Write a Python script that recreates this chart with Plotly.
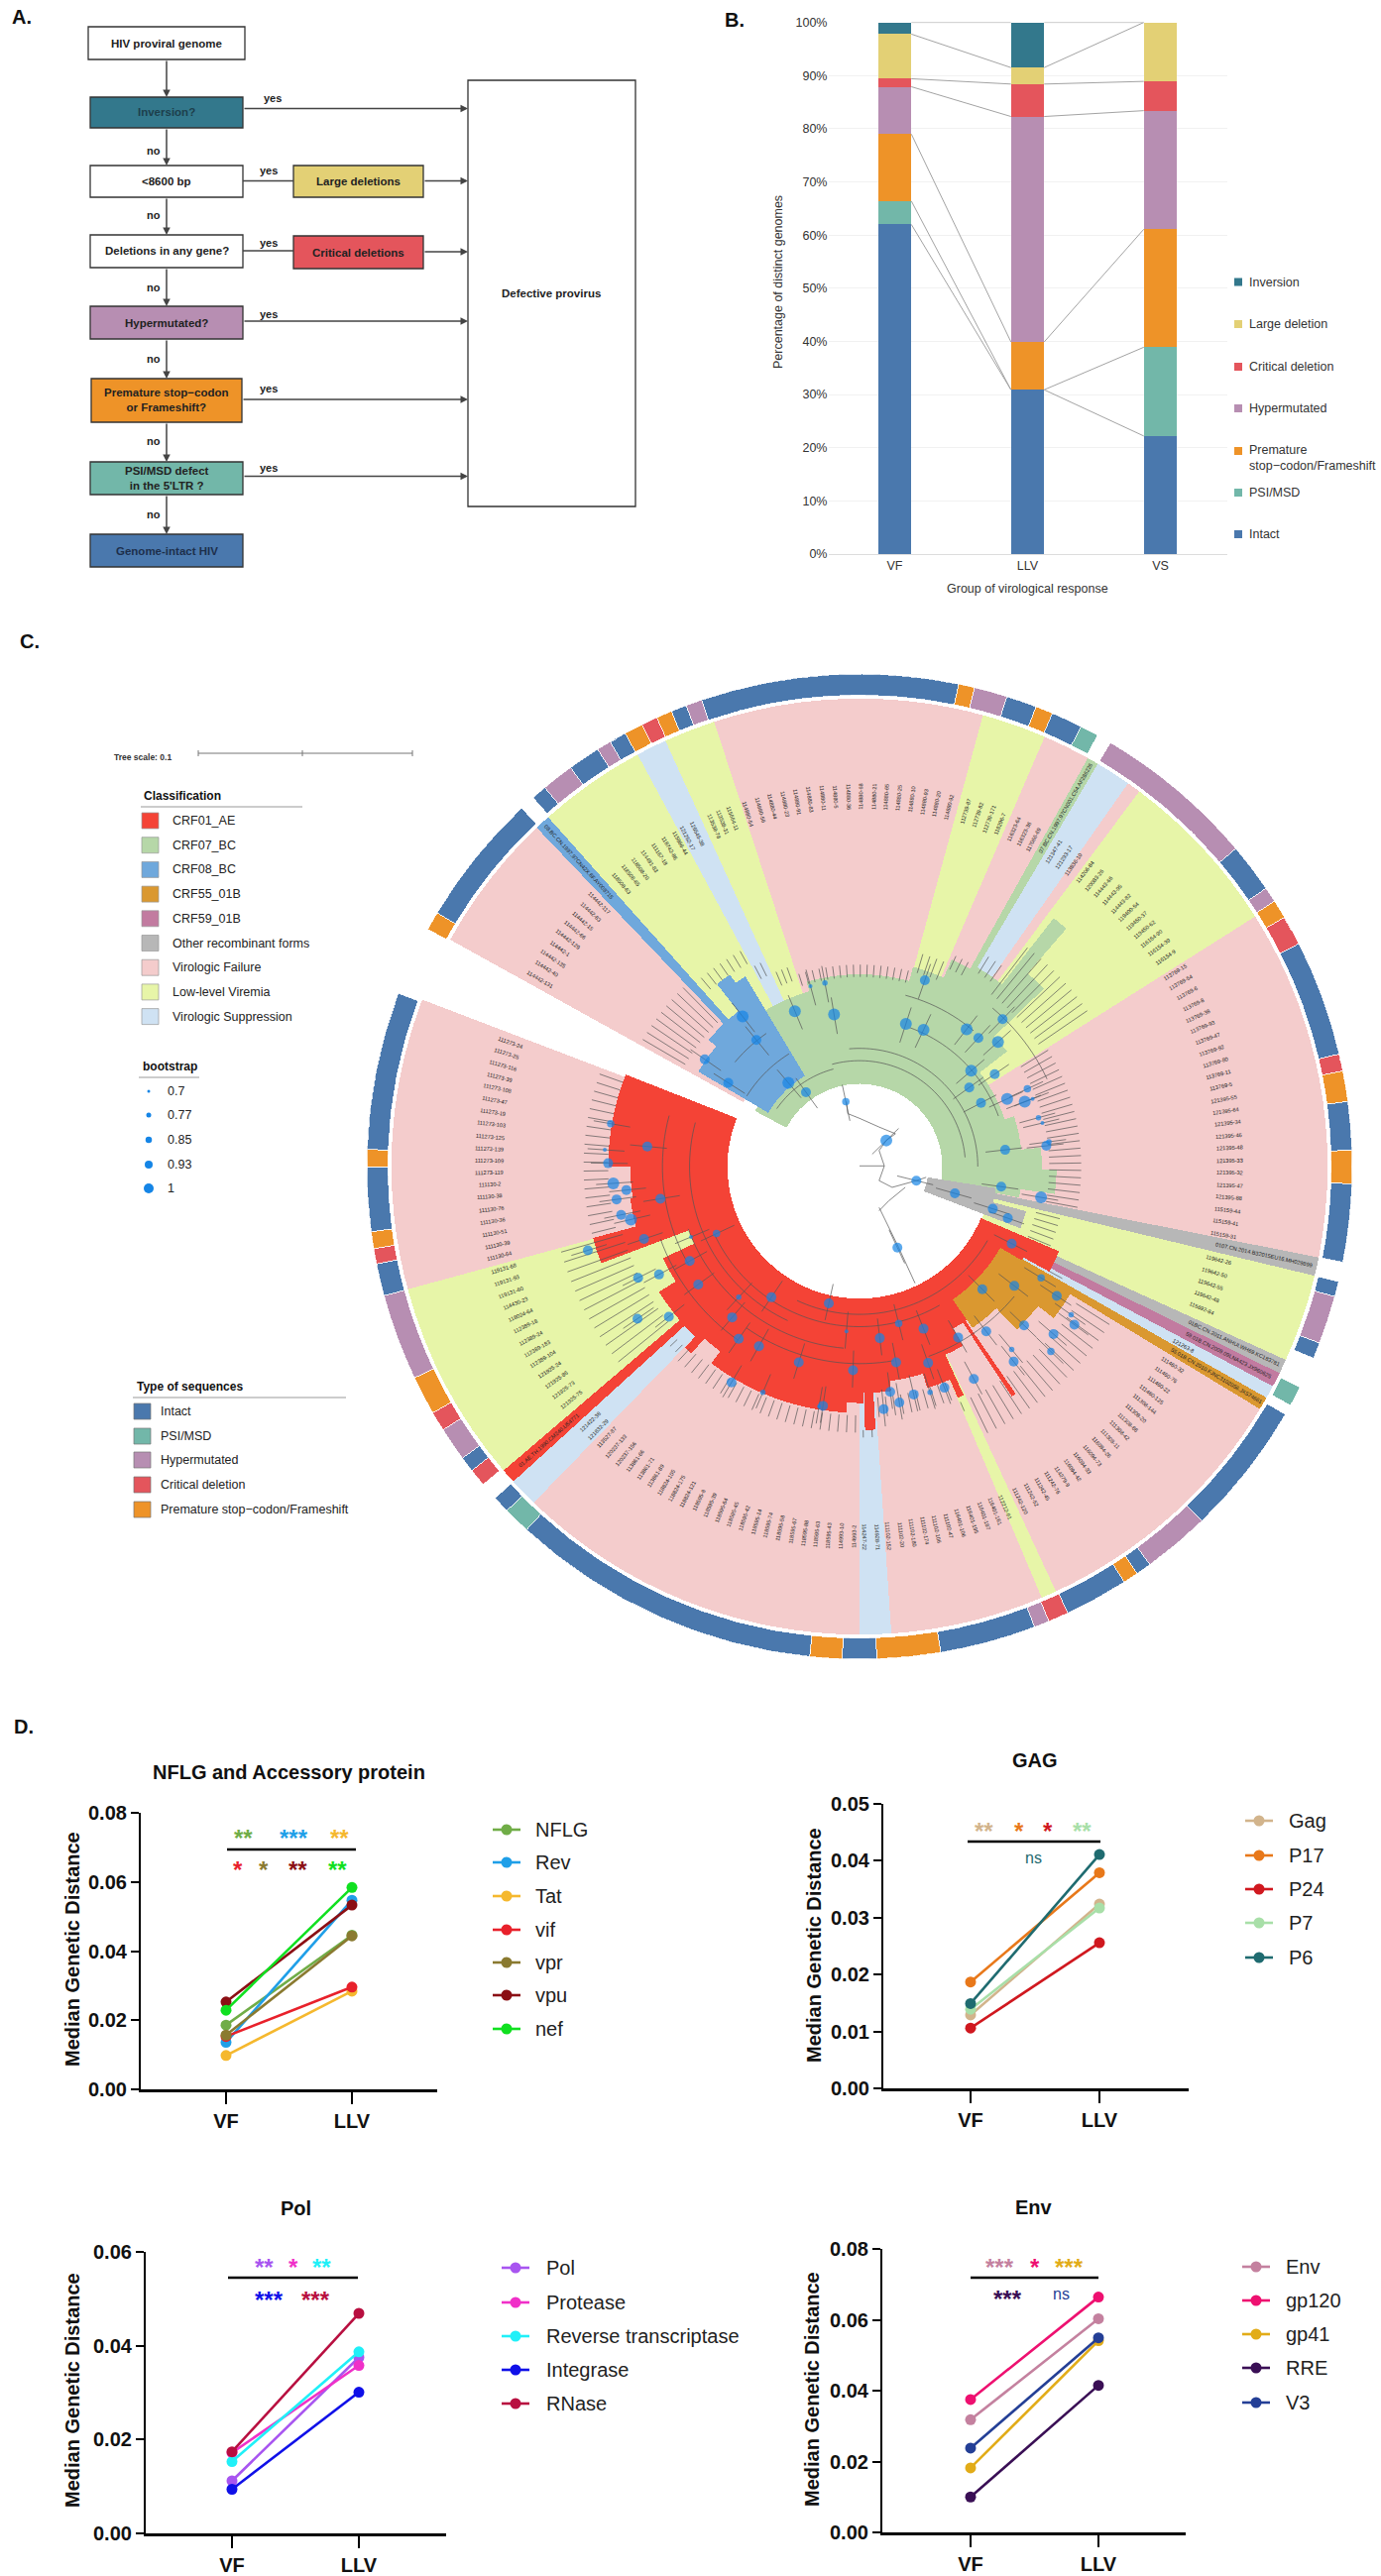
import math
import numpy as np
import plotly.graph_objects as go

W, H = 1393, 2599
FONT = "Liberation Sans"

# ---------------- colours of defect classes
C_INV, C_LARGE, C_CRIT, C_HYP = "#33788c", "#e3d075", "#e4555c", "#b78eb2"
C_PREM, C_PSI, C_INT = "#ee9328", "#72b7a9", "#4a78ad"
# ---------------- tree clade colours
PINK, YEL, LBL = "#f4cccc", "#e7f5a8", "#cfe2f3"
RED, GRN, BL8, OR55, PU59, GREY = "#f44336", "#b6d7a8", "#6fa8dc", "#da9830", "#c27ba0", "#b7b7b7"

# ---------------- Panel B data
groups = ["VF", "LLV", "VS"]
stack_names = ["Intact", "PSI/MSD", "Premature", "Hypermutated", "Critical deletion", "Large deletion", "Inversion"]
stack_colors = [C_INT, C_PSI, C_PREM, C_HYP, C_CRIT, C_LARGE, C_INV]
intact = [62.0, 30.9, 22.2]
psi_msd = [4.4, 0.0, 16.7]
premature = [12.6, 9.0, 22.2]
hypermutated = [8.9, 42.4, 22.3]
critical = [1.5, 6.1, 5.5]
large = [8.4, 3.1, 11.1]
inversion = [2.2, 8.5, 0.0]
b_legend = ["Inversion", "Large deletion", "Critical deletion", "Hypermutated", "Premature<br>stop\u2212codon/Frameshift", "PSI/MSD", "Intact"]
b_legend_colors = [C_INV, C_LARGE, C_CRIT, C_HYP, C_PREM, C_PSI, C_INT]

# ---------------- Panel C: outer ring (start angle, end angle, colour)
ring_start = [341.3, 11.6, 13.5, 17.4, 21.0, 23.0, 26.7, 30.6, 49.8, 55.6, 57.4, 59.6, 63.1, 76.8, 78.8, 82.4, 88.1, 92.0,
              103.5, 105.3, 111.0, 116.6, 120.2, 136.0, 143.9, 145.7, 147.5, 155.0, 157.4, 159.2, 170.5, 178.0, 182.0, 185.8,
              222.5, 225.7, 229.8, 231.9, 233.7, 237.7, 240.0, 244.6, 254.8, 258.6, 260.4, 262.4, 270.0, 272.0, 298.8, 301.0,
              318.5, 320.3, 324.1, 327.9, 329.6, 331.6, 333.8, 335.7, 337.6, 339.4]
ring_end = [371.6, 13.5, 17.4, 21.0, 23.0, 26.7, 28.9, 49.8, 55.6, 57.4, 59.6, 63.1, 76.8, 78.8, 82.4, 88.1, 92.0, 101.2,
            105.3, 111.0, 112.9, 119.0, 136.0, 143.9, 145.7, 147.5, 155.0, 157.4, 159.2, 170.5, 178.0, 182.0, 185.8, 222.5,
            225.7, 227.7, 231.9, 233.7, 237.7, 240.0, 244.6, 254.8, 258.6, 260.4, 262.4, 270.0, 272.0, 290.6, 301.0, 316.7,
            320.3, 324.1, 327.9, 329.6, 331.6, 333.8, 335.7, 337.6, 339.4, 341.3]
ring_color = [C_INT, C_PREM, C_HYP, C_INT, C_PREM, C_INT, C_PSI, C_HYP, C_INT, C_HYP, C_PREM, C_CRIT, C_INT, C_CRIT, C_PREM, C_INT, C_PREM, C_INT,
              C_INT, C_HYP, C_INT, C_PSI, C_INT, C_HYP, C_INT, C_PREM, C_INT, C_CRIT, C_HYP, C_INT, C_PREM, C_INT, C_PREM, C_INT,
              C_PSI, C_INT, C_CRIT, C_INT, C_HYP, C_CRIT, C_PREM, C_HYP, C_INT, C_CRIT, C_PREM, C_INT, C_PREM, C_INT, C_PREM, C_INT,
              C_INT, C_HYP, C_INT, C_HYP, C_INT, C_PREM, C_CRIT, C_PREM, C_INT, C_HYP]

# background ranges (start, end, colour)
bg_ranges = [(341.9, 375.3, PINK), (15.3, 23.3, YEL), (23.3, 29.2, PINK), (29.2, 30.6, GRN), (30.6, 35.0, LBL), (35.0, 36.7, PINK),
             (36.7, 57.7, YEL), (57.7, 101.2, PINK), (101.2, 103.5, GREY), (103.5, 114.4, YEL), (114.4, 116.2, GREY),
             (116.2, 118.0, PU59), (118.0, 119.6, LBL), (119.6, 121.2, OR55), (121.2, 155.2, PINK), (155.2, 157.1, YEL),
             (157.1, 176.1, PINK), (176.1, 180.0, LBL), (180.0, 224.1, PINK), (224.1, 227.7, LBL), (227.7, 229.5, RED),
             (229.5, 254.8, YEL), (254.8, 290.9, PINK), (299.0, 316.4, PINK), (316.4, 318.3, BL8), (318.3, 331.7, YEL),
             (331.7, 335.5, LBL), (335.5, 341.9, YEL)]

# clades: (start, end, inner radius, outer radius, colour)
clades = [
    # green
    (298, 360, .168, .24, GRN), (328, 344, .2, .37, GRN), (344, 375, .168, .39, GRN), (15, 24, .168, .42, GRN), (24, 30, .168, .46, GRN),
    (30, 38, .168, .47, GRN), (38, 41, .168, .64, GRN), (41, 46, .168, .52, GRN), (46, 52, .168, .38, GRN),
    (52, 72, .168, .31, GRN), (72, 84, .168, .33, GRN), (84, 91, .168, .37, GRN), (91, 98, .168, .40, GRN), (98, 101, .168, .33, GRN),
    # blue
    (300.5, 310, .215, .38, BL8), (310, 322, .215, .40, BL8), (322, 326, .215, .47, BL8), (326, 329, .215, .45, BL8),
    # grey
    (99, 105, .14, .28, GREY), (105, 111, .14, .35, GREY),
    # red
    (116, 150, .268, .38, RED), (113, 119, .268, .44, RED), (145.5, 146.5, .268, .56, RED), (150, 157, .268, .42, RED), (155.5, 157, .268, .51, RED),
    (157, 163, .268, .47, RED), (163, 172, .268, .44, RED), (172, 183, .268, .46, RED), (176.5, 178.8, .268, .535, RED),
    (179, 183, .268, .48, RED), (183, 217, .268, .50, RED), (217, 224, .268, .47, RED), (222, 224, .268, .51, RED), (224, 238, .268, .48, RED),
    (238, 245, .268, .44, RED), (245, 249, .268, .37, RED), (249.5, 255, .268, .56, RED), (249, 255, .268, .37, RED), (255, 262, .268, .47, RED),
    (262, 270, .268, .465, RED), (270, 291.5, .268, .51, RED),
    # CRF55
    (120, 128, .33, .50, OR55), (128, 136, .33, .46, OR55), (136, 145, .33, .40, OR55),
]

# leaf labels grouped by sector: first angle, last angle, tip start, tip end, labels in order
leaf_groups = [
    (342.5, 374.0, .385, .41, ["114880-54", "114880-56", "114880-44", "114880-23", "114880-91", "114880-83", "114880-11", "114880-5", "114880-36",
                               "114880-68", "114880-21", "114880-65", "114880-25", "114880-10", "114880-93", "114880-20", "114880-92"]),
    (16.6, 22.3, .41, .45, ["112739-87", "112739-82", "112739-171", "118296-7"]),
    (24.6, 28.0, .44, .47, ["116323-64", "116323-36", "117066-69"]),
    (31.6, 33.5, .46, .50, ["121347-41", "121293-17"]),
    (35.2, 35.2, .46, .50, ["113836-10"]),
    (37.5, 55.6, .44, .56, ["114206-84", "120083-26", "114443-66", "114443-95", "114443-82", "119400-54", "119450-37", "119450-62",
                            "116154-90", "116154-39", "116154-9"]),
    (58.3, 100.6, .385, .45, ["113769-15", "113769-54", "113769-6", "113769-8", "113769-38", "113769-93", "113769-47", "113769-92", "113769-80",
                              "113769-11", "113769-5", "121395-55", "121395-64", "121395-34", "121395-46", "121395-48", "121395-33", "121395-32",
                              "121395-47", "121395-88", "115159-44", "115159-41", "115159-31"]),
    (104.6, 112.5, .37, .42, ["119642-26", "119642-50", "119642-55", "119642-48", "115692-84"]),
    (154.3, 122.3, .52, .60, ["111242-120", "111242-52", "111242-45", "111242-76", "114279-9", "116094-42", "116094-33", "116094-73", "116094-26",
                              "111308-11", "111308-42", "111308-66", "111308-20", "111308-144", "111460-125", "111460-22", "111460-76", "111460-32"]),
    (156.8, 156.8, .52, .54, ["112212-91"]),
    (175.5, 158.5, .47, .51, ["111102-152", "111102-20", "111102-180", "111102-174", "111102-106", "111102-47", "116401-106", "116401-195",
                              "116401-187", "116401-161"]),
    (179.2, 177.3, .535, .55, ["114247-22", "114928-71"]),
    (223.0, 180.9, .505, .54, ["113527-87", "120237-133", "120237-156", "113861-66", "113861-71", "113861-89", "118824-105", "118824-175",
                               "118824-121", "118595-8", "118595-39", "118595-64", "118595-45", "118595-42", "118595-14", "118595-74",
                               "118595-58", "118595-67", "118595-88", "118595-63", "118595-43", "114993-10", "114993-2"]),
    (226.5, 224.8, .51, .53, ["121422-38", "121832-29"]),
    (231.0, 254.0, .50, .63, ["121925-75", "121925-73", "121925-86", "121925-24", "112389-104", "112389-183", "112389-24", "112389-18",
                              "118024-64", "114430-23", "119131-60", "119131-93", "119131-68"]),
    (256.0, 289.6, .51, .56, ["111130-64", "111130-39", "111130-51", "111130-36", "111130-76", "111130-38", "111130-2", "111273-119", "111273-109",
                              "111273-139", "111273-125", "111273-103", "111273-19", "111273-47", "111273-108", "111273-39", "111273-116",
                              "111273-25", "111273-24"]),
    (300.4, 315.4, .41, .51, ["114442-131", "114442-40", "114442-135", "114442-1", "114442-129", "114442-66", "114442-15", "114442-83", "114442-117"]),
    (320.0, 331.0, .47, .50, ["118508-63", "118508-65", "118508-20", "114491-83", "111167-18", "118742-86", "115866-44"]),
    (332.4, 334.0, .43, .46, ["121262-17", "126545-38"]),
    (336.8, 340.0, .40, .43, ["113538-78", "113538-31", "115664-11"]),
    (118.9, 118.9, .44, .47, ["121263-8"]),
]
# reference strains lying inside narrow strips: angle, label
strip_theta = [29.9, 102.3, 115.3, 117.1, 120.4, 228.6, 317.4]
strip_text = ["07.BC.CN.1997.97CN001.C54.AF286226", "0107.CN.2014.B32015EU16.MH029899", "01BC.CN.2011.ANHUI.WH69.KC183781",
              "59.01B.CN.2009.09LNA423.JX960625", "55.01B.CN.2010.FJNC3102056.JX574661", "01.AE.TH.1990.CM240.U54771",
              "08.BC.CN.1997.97CN42X.6F.AY008715"]

# bootstrap nodes: picture x, picture y, bootstrap value
node_x = [671, 731, 841, 868, 870, 934, 952, 982, 989, 941, 977, 938, 956, 996, 1023, 1027, 1035, 1044, 1050, 1056, 1060, 993, 987, 1048, 749, 811, 695, 717,
          591, 612, 533, 569, 661, 688, 857, 916, 974, 997, 828,
          1003, 958, 1007, 1048, 1072, 964, 1022, 1067, 1094, 1099, 1003, 1063, 1006,
          723, 635, 585, 551, 510, 523, 575, 585, 616, 677, 760, 801, 830, 868, 921, 826, 875, 750, 574, 622, 714, 708, 817, 831, 853, 878, 900, 945, 807,
          354, 431, 463, 430, 478, 440, 465, 445, 389, 380, 385, 393, 413, 398, 405, 420, 512]
node_y = [562, 567, 581, 590, 516, 589, 602, 608, 574, 651, 656, 676, 699, 693, 697, 678, 693, 721, 729, 763, 757, 769, 824, 840, 697, 755, 525, 520,
          570, 605, 634, 669, 669, 683, 815, 834, 857, 871, 915,
          909, 977, 972, 960, 987, 1040, 1031, 1044, 1015, 1030, 1067, 1070, 1085,
          998, 989, 989, 894, 935, 970, 1019, 1051, 1062, 1086, 1098, 1050, 1028, 1036, 1049, 1086, 1087, 1040, 1116, 1131, 1151, 1152, 1130, 1146, 1134, 1131, 1124, 1111, 1156,
          919, 960, 955, 1021, 1018, 902, 842, 764, 730, 769, 789, 819, 829, 843, 866, 873, 899]
node_boot = [1, 1, 1, 1, .93, 1, .93, 1, .93, 1, .93, .93, .93, 1, 1, .85, .7, .77, .7, .93, .77, .93, .93, 1, .85, 1, .7, .77,
             1, .93, .93, .93, 1, .93, .93, .93, .93, .93, .93,
             .93, .93, .93, .85, .93, .93, .93, .93, .77, .93, .77, .85, .93,
             .93, .93, .77, .85, .93, .93, .93, .93, .93, .93, .93, .93, .85, .93, .93, .93, .93, .7, .93, .77, .93, .7, .93, .93, .93, .77, .93, .93, .93,
             .93, .93, .93, .93, .93, .93, .93, .93, .85, .7, .93, 1, .93, .93, .93, 1, .7]
boot_size = {.7: 4, .77: 5.5, .85: 7.5, .93: 10, 1: 12}

# long internal branch arcs: start, end, radius
arc_start = [305, 345, 355, 20, 15, 40, 302, 310, 120, 150, 205, 240, 170, 215, 130, 185]
arc_end = [345, 445, 450, 70, 40, 65, 328, 325, 205, 245, 285, 285, 215, 250, 160, 250]
arc_r = [.205, .215, .24, .30, .36, .42, .27, .33, .30, .325, .345, .40, .40, .43, .41, .37]
# root branches in picture coordinates
root_x = [[770, 808], [800, 808, 800], [800, 811, 825], [750, 752, 770, 800, 825], [800, 820, 857, 872], [800, 830, 855], [800, 815, 840]]
root_y = [[793, 793], [770, 793, 815], [770, 755, 745], [697, 715, 722, 735, 745], [815, 825, 815, 810], [855, 915, 968], [860, 845, 825]]

# ---------------- Panel D data
nflg_names = ["NFLG", "Rev", "Tat", "vif", "vpr", "vpu", "nef"]
nflg_vf = [.0186, .0136, .0098, .0153, .0157, .0253, .0229]
nflg_llv = [.0446, .0547, .0284, .0296, .0444, .0533, .0584]
nflg_colors = ["#70ad47", "#1f9fe8", "#f5b82e", "#e8212b", "#8a7a30", "#8b0f14", "#10e020"]
gag_names = ["Gag", "P17", "P24", "P7", "P6"]
gag_vf = [.0129, .0187, .0106, .0139, .0149]
gag_llv = [.0324, .0379, .0256, .0317, .0411]
gag_colors = ["#d2b48c", "#e8781a", "#d0181f", "#a8dfa8", "#1f6b70"]
pol_names = ["Pol", "Protease", "Reverse transcriptase", "Integrase", "RNase"]
pol_vf = [.0112, .0172, .0153, .0094, .0174]
pol_llv = [.0375, .0358, .0387, .0301, .0469]
pol_colors = ["#a855f0", "#f030c8", "#20f0f8", "#1010e8", "#b80f40"]
env_names = ["Env", "gp120", "gp41", "RRE", "V3"]
env_vf = [.0318, .0375, .0182, .0100, .0238]
env_llv = [.0603, .0664, .0541, .0415, .0549]
env_colors = ["#c4819f", "#ee1070", "#e2ac18", "#3a0f55", "#243f96"]
x_cats = ["VF", "LLV"]

# ---------------- helpers


def px(x):
    return x / W


def py(y):
    return 1 - y / H


fig = go.Figure()
shapes, annos = [], []


def text(x, y, s, size=12, color="#222", bold=False, anchor="center", angle=0, family=FONT):
    annos.append(dict(x=px(x), y=py(y), xref="paper", yref="paper", text=f"<b>{s}</b>" if bold else s, showarrow=False,
                      font=dict(size=size, color=color, family=family), xanchor=anchor, yanchor="middle", textangle=angle,
                      align="left"))


def rect(x0, y0, x1, y1, fill="white", line="#333", lw=1.3, below=False):
    shapes.append(dict(type="rect", xref="paper", yref="paper", x0=px(x0), x1=px(x1), y0=py(y0), y1=py(y1),
                       fillcolor=fill, line=dict(color=line, width=lw), layer="below" if below else "above"))


def hline(x0, y0, x1, y1, color="#444", lw=1.5):
    shapes.append(dict(type="line", xref="paper", yref="paper", x0=px(x0), x1=px(x1), y0=py(y0), y1=py(y1),
                       line=dict(color=color, width=lw)))


def dot(x, y, d, color):
    shapes.append(dict(type="circle", xref="paper", yref="paper", x0=px(x - d / 2), x1=px(x + d / 2), y0=py(y + d / 2), y1=py(y - d / 2),
                       fillcolor=color, line=dict(width=0)))


def arrow(x0, y0, x1, y1):
    annos.append(dict(x=px(x1), y=py(y1), xref="paper", yref="paper", ax=x0 - x1, ay=y0 - y1, axref="pixel", ayref="pixel", text="",
                      showarrow=True, arrowhead=2, arrowsize=1, arrowwidth=1.5, arrowcolor="#444", standoff=0))


# ---------------- Panel A: flowchart
text(10, 17, "A.", 20, "#111", True, "left")
boxes = [(89, 27, 247, 60, "white", "HIV proviral genome", "#222"),
         (91, 98, 245, 129, C_INV, "Inversion?", "#1d3f4c"),
         (91, 167, 245, 199, "white", "&lt;8600 bp", "#222"),
         (296, 167, 427, 199, C_LARGE, "Large deletions", "#222"),
         (91, 237, 245, 270, "white", "Deletions in any gene?", "#222"),
         (296, 238, 427, 271, C_CRIT, "Critical deletions", "#222"),
         (91, 309, 245, 342, C_HYP, "Hypermutated?", "#222"),
         (92, 382, 244, 426, C_PREM, "Premature stop\u2212codon<br>or Frameshift?", "#222"),
         (91, 466, 245, 499, C_PSI, "PSI/MSD defect<br>in the 5'LTR ?", "#222"),
         (91, 539, 245, 572, C_INT, "Genome-intact HIV", "#1d2f4c")]
for (x0, y0, x1, y1, f, s, c) in boxes:
    rect(x0, y0, x1, y1, f)
    text((x0 + x1) / 2, (y0 + y1) / 2, s, 11.5, c, True)
    annos[-1]["align"] = "center"
rect(472, 81, 641, 511)
text(556, 296, "Defective provirus", 11.5, "#222", True)
for (a, b) in [(60, 98), (129, 167), (199, 237), (270, 309), (342, 382), (426, 466), (499, 539)]:
    arrow(168, a, 168, b)
for (x0, y) in [(245, 109.5), (427, 182.5), (427, 254), (245, 324), (244, 403), (245, 480.5)]:
    arrow(x0, y, 472, y)
hline(245, 182.5, 296, 182.5)
hline(245, 253, 296, 253)
for (x, y) in [(275, 99), (271, 172), (271, 245), (271, 317), (271, 392), (271, 472)]:
    text(x, y, "yes", 11, "#222", True)
for y in [152, 217, 290, 362, 445, 519]:
    text(155, y, "no", 11, "#222", True)

# ---------------- Panel B: stacked bars
text(729, 20, "B.", 20, "#111", True, "left")
stack_values = [intact, psi_msd, premature, hypermutated, critical, large, inversion]
for name, vals, col in zip(stack_names, stack_values, stack_colors):
    fig.add_trace(go.Bar(x=[0, 1, 2], y=vals, name=name, marker=dict(color=col, line=dict(width=0)), width=.25,
                         xaxis="x", yaxis="y", showlegend=False))
cum = np.cumsum(np.array(stack_values), axis=0)
cx_, cy_ = [], []
for level in cum:
    for i in range(2):
        cx_ += [i + .125, i + 1 - .125, None]
        cy_ += [level[i], level[i + 1], None]
fig.add_trace(go.Scatter(x=cx_, y=cy_, mode="lines", line=dict(color="#a3a3a3", width=1), xaxis="x", yaxis="y", showlegend=False, hoverinfo="skip"))
for i, (s, c) in enumerate(zip(b_legend, b_legend_colors)):
    y = [284.5, 327, 370, 412, 455, 497, 539][i]
    rect(1245, y - 4, 1253, y + 4, c, c, 0)
    text(1258, y + (7 if "<br>" in s else 0), s, 12.5, "#333", anchor="left")
text(785, 285, "Percentage of distinct genomes", 12.5, "#333", angle=-90)
text(1036, 594, "Group of virological response", 12.5, "#333")

# ---------------- Panel C: circular tree
CX, CY, R = 867.0, 1177.0, 497.0
text(18, 647, "C.", 20, "#111", True, "left")


def to_polar(xs, ys):
    th, rr = [], []
    for x, y in zip(xs, ys):
        dx, dy = (x - 770) / 1.518 / R, (y - 794) / 1.479 / R
        th.append(math.degrees(math.atan2(dx, -dy)) % 360)
        rr.append(math.hypot(dx, dy))
    return th, rr


def barp(starts, ends, r0, r1, colors, lw=0, lc="white", name=""):
    fig.add_trace(go.Barpolar(theta=[(a + b) / 2 for a, b in zip(starts, ends)], width=[b - a for a, b in zip(starts, ends)],
                              base=r0, r=[b - a for a, b in zip(r0, r1)], marker=dict(color=colors, line=dict(color=lc, width=lw)),
                              subplot="polar", showlegend=False, name=name, hoverinfo="skip"))


barp([a for a, b, c in bg_ranges], [b for a, b, c in bg_ranges], [.27] * len(bg_ranges), [.95] * len(bg_ranges), [c for a, b, c in bg_ranges], name="ranges")
barp([c[0] for c in clades], [c[1] for c in clades], [c[2] for c in clades], [c[3] for c in clades], [c[4] for c in clades], name="clades")
barp(ring_start, ring_end, [.957] * len(ring_start), [1.0] * len(ring_start), ring_color, lw=.8, name="sequence type")

# branches
lth, lr = [], []
for (a, b, r0, r1, labs) in leaf_groups:
    n = len(labs)
    for i, lab in enumerate(labs):
        t = a + (b - a) * i / max(n - 1, 1)
        lth += [t % 360, t % 360, None]
        lr += [r0, r1, None]
        x = CX + .752 * R * math.sin(math.radians(t))
        y = CY - .752 * R * math.cos(math.radians(t))
        t360 = t % 360
        ang = t360 - 90 if t360 < 180 else t360 - 270
        text(x, y, lab, 5.6, "#222", angle=ang)
for t, s in zip(strip_theta, strip_text):
    x = CX + .84 * R * math.sin(math.radians(t))
    y = CY - .84 * R * math.cos(math.radians(t))
    text(x, y, s, 5.6, "#222", angle=(t - 90 if t < 180 else t - 270))
for a, b, r in zip(arc_start, arc_end, arc_r):
    n = max(int((b - a) / 2), 2)
    lth += [a + (b - a) * i / n for i in range(n + 1)] + [None]
    lr += [r] * (n + 1) + [None]
nth, nr = to_polar(node_x, node_y)
for t, r in zip(nth, nr):
    lth += [t, t, None]
    lr += [r - .04, r + .035, None]
for xs, ys in zip(root_x, root_y):
    th, rr = to_polar(xs, ys)
    lth += th + [None]
    lr += rr + [None]
fig.add_trace(go.Scatterpolar(theta=lth, r=lr, mode="lines", line=dict(color="#555", width=.7), subplot="polar", showlegend=False, hoverinfo="skip", connectgaps=False))
fig.add_trace(go.Scatterpolar(theta=nth, r=nr, mode="markers", marker=dict(color="#1585e6", size=[boot_size[b] for b in node_boot], line=dict(width=0)),
                              subplot="polar", showlegend=False, hoverinfo="skip"))

# tree scale
text(113, 764, "Tree scale: 0.1", 8.5, "#333", True, "left")
hline(200, 760, 416, 760, "#777", 1)
for x in (200, 305, 416):
    hline(x, 757, x, 763, "#777", 1)
# Classification legend
text(143, 803, "Classification", 12, "#111", True, "left")
hline(142, 814, 305, 814, "#999", 1.2)
for i, (s, c) in enumerate([("CRF01_AE", RED), ("CRF07_BC", GRN), ("CRF08_BC", BL8), ("CRF55_01B", OR55), ("CRF59_01B", PU59),
                            ("Other recombinant forms", GREY), ("Virologic Failure", PINK), ("Low-level Viremia", YEL), ("Virologic Suppression", LBL)]):
    y = 828 + i * 24.7
    rect(143, y - 8, 160, y + 8, c, "#999", .7)
    text(172, y, s, 12.5, "#222", anchor="left")
# bootstrap legend
text(142, 1076, "bootstrap", 12, "#111", True, "left")
hline(140, 1087, 201, 1087, "#999", 1.2)
for y, s, d in zip([1101, 1125, 1150, 1175, 1199], ["0.7", "0.77", "0.85", "0.93", "1"], [3, 5, 6.5, 8, 10]):
    dot(150, y, d, "#1585e6")
    text(167, y, s, 12.5, "#222", anchor="left")
# sequence type legend
text(136, 1399, "Type of sequences", 12, "#111", True, "left")
hline(134, 1410, 349, 1410, "#999", 1.2)
for y, s, c in zip([1424, 1449, 1473, 1498, 1523], ["Intact", "PSI/MSD", "Hypermutated", "Critical deletion", "Premature stop\u2212codon/Frameshift"],
                   [C_INT, C_PSI, C_HYP, C_CRIT, C_PREM]):
    rect(135, y - 8, 152, y + 8, c, "#777", .7)
    text(160, y, s, 12.5, "#222", anchor="left")

# ---------------- Panel D
text(12, 1742, "D.", 20, "#111", True, "left")
panels = [
    dict(n=2, names=nflg_names, vf=nflg_vf, llv=nflg_llv, colors=nflg_colors, ax=142, xend=441, x_vf=228, x_llv=355, y0=2108, ytop=1829, ymax=.08, dt=.02,
         title="NFLG and Accessory protein", tx=291, ty=1788, ytx=73, yty=1967, legx=511, legtx=538, legy=[1846, 1879, 1913, 1947, 1980, 2013, 2047],
         bar=(229, 359, 1866),
         stars=[(245, 1850, "**", 0), (296, 1850, "***", 1), (342, 1850, "**", 2), (240, 1881, "*", 3), (266, 1881, "*", 4), (300, 1881, "**", 5), (340, 1881, "**", 6)]),
    dict(n=3, names=gag_names, vf=gag_vf, llv=gag_llv, colors=gag_colors, ax=891, xend=1199, x_vf=979, x_llv=1109, y0=2107, ytop=1820, ymax=.05, dt=.01,
         title="GAG", tx=1044, ty=1776, ytx=821, yty=1962, legx=1270, legtx=1298, legy=[1837, 1872, 1906, 1940, 1975],
         bar=(976, 1110, 1858),
         stars=[(993, 1842, "**", 0), (1028, 1842, "*", 1), (1057, 1842, "*", 2), (1091, 1842, "**", 3), (1042, 1874, "ns", 4)]),
    dict(n=4, names=pol_names, vf=pol_vf, llv=pol_llv, colors=pol_colors, ax=147, xend=450, x_vf=234, x_llv=362, y0=2556, ytop=2272, ymax=.06, dt=.02,
         title="Pol", tx=298, ty=2228, ytx=73, yty=2412, legx=520, legtx=549, legy=[2288, 2323, 2357, 2391, 2425],
         bar=(230, 361, 2298),
         stars=[(266, 2282, "**", 0), (296, 2282, "*", 1), (324, 2282, "**", 2), (271, 2315, "***", 3), (318, 2315, "***", 4)]),
    dict(n=5, names=env_names, vf=env_vf, llv=env_llv, colors=env_colors, ax=890, xend=1196, x_vf=979, x_llv=1108, y0=2555, ytop=2269, ymax=.08, dt=.02,
         title="Env", tx=1043, ty=2227, ytx=819, yty=2411, legx=1267, legtx=1295, legy=[2287, 2321, 2355, 2389, 2424],
         bar=(979, 1108, 2298),
         stars=[(1008, 2282, "***", 0), (1044, 2282, "*", 1), (1078, 2282, "***", 2), (1016, 2314, "***", 3), (1070, 2314, "ns", 4)]),
]
axes = {}
for p in panels:
    n = p["n"]
    unit = p["x_llv"] - p["x_vf"]
    xr = [(p["ax"] - p["x_vf"]) / unit, (p["xend"] - p["x_vf"]) / unit]
    axes[f"xaxis{n}"] = dict(domain=[px(p["ax"]), px(p["xend"])], anchor=f"y{n}", range=xr, tickmode="array", tickvals=[0, 1], ticktext=x_cats, automargin=False,
                             ticks="outside", ticklen=12, tickwidth=2, tickcolor="#000", showline=True, linecolor="#000", linewidth=3, showgrid=False,
                             zeroline=False, tickfont=dict(size=20, family=FONT, color="#111", weight=700))
    axes[f"yaxis{n}"] = dict(domain=[py(p["y0"]), py(p["ytop"])], anchor=f"x{n}", range=[0, p["ymax"]], dtick=p["dt"], tickformat=".2f", automargin=False,
                             ticks="outside", ticklen=8, tickwidth=2, tickcolor="#000", showline=True, linecolor="#000", linewidth=2.2, showgrid=False,
                             zeroline=False, tickfont=dict(size=20, family=FONT, color="#111", weight=700))
    for nm, a, b, c in zip(p["names"], p["vf"], p["llv"], p["colors"]):
        fig.add_trace(go.Scatter(x=[0, 1], y=[a, b], mode="lines+markers", name=nm, line=dict(color=c, width=2.6),
                                 marker=dict(color=c, size=11), xaxis=f"x{n}", yaxis=f"y{n}", showlegend=False))
    text(p["tx"], p["ty"], p["title"], 20, "#111", True)
    text(p["ytx"], p["yty"], "Median Genetic Distance", 20, "#111", True, angle=-90)
    for nm, c, y in zip(p["names"], p["colors"], p["legy"]):
        hline(p["legx"] - 14, y, p["legx"] + 14, y, c, 2.6)
        dot(p["legx"], y, 11, c)
        text(p["legtx"], y, nm, 20, "#222", anchor="left")
    bx0, bx1, by = p["bar"]
    hline(bx0, by, bx1, by, "#000", 2.6)
    for sx, sy, s, ci in p["stars"]:
        if s == "ns":
            text(sx, sy, s, 16, p["colors"][ci])
        else:
            text(sx, sy + 5, s, 24, p["colors"][ci], True)

fig.update_layout(
    width=W, height=H, autosize=False, margin=dict(l=0, r=0, t=0, b=0, autoexpand=False), paper_bgcolor="white", plot_bgcolor="white",
    barmode="stack", showlegend=False, shapes=shapes, annotations=annos, font=dict(family=FONT),
    xaxis=dict(domain=[px(835.5), px(1237.5)], anchor="y", range=[-.5, 2.5], tickmode="array", tickvals=[0, 1, 2], ticktext=groups, automargin=False,
               tickfont=dict(size=12.5, family=FONT, color="#333"), showline=True, linecolor="#ddd", linewidth=1.2, showgrid=False, zeroline=False, ticks=""),
    yaxis=dict(domain=[py(559), py(22.6)], anchor="x", range=[0, 100], dtick=10, ticksuffix="%", tickfont=dict(size=12.5, family=FONT, color="#333"), automargin=False,
               showgrid=True, gridcolor="#f1f1f1", gridwidth=1, zeroline=False, showline=False, ticks=""),
    polar=dict(domain=dict(x=[px(CX - R), px(CX + R)], y=[py(CY + R), py(CY - R)]), bgcolor="rgba(0,0,0,0)", barmode="overlay",
               radialaxis=dict(visible=False, range=[0, 1]), angularaxis=dict(visible=False, direction="clockwise", rotation=90)),
    **axes,
)
fig.write_html("out.html", config=dict(displayModeBar=False), post_script="document.body.style.margin='0';document.documentElement.style.overflow='hidden';")
